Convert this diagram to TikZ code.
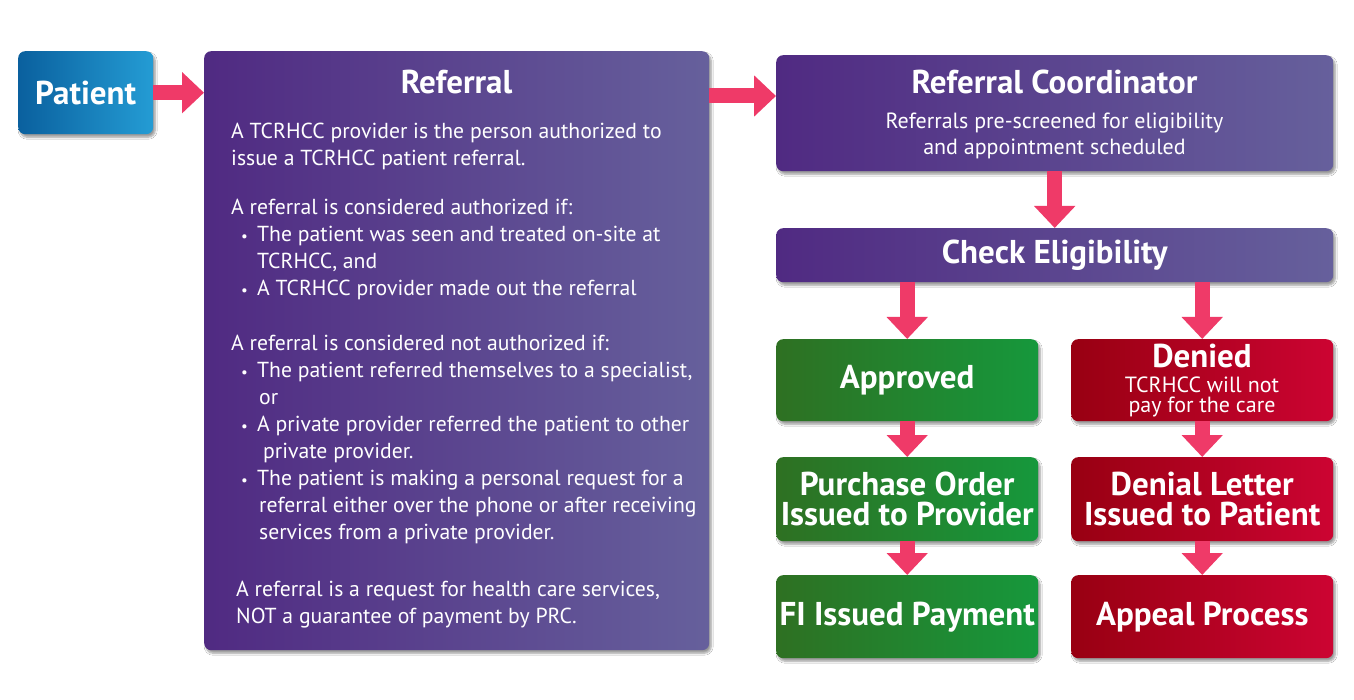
\documentclass[tikz,border=0pt]{standalone}
\usepackage{fontspec}
\setmainfont{PT Sans}
\usetikzlibrary{arrows.meta,shadows.blur}
\definecolor{pinkarrow}{RGB}{239,58,104}
\definecolor{purpL}{RGB}{80,42,130}
\definecolor{purpR}{RGB}{102,96,156}
\definecolor{greenL}{RGB}{46,112,34}
\definecolor{greenR}{RGB}{22,152,60}
\definecolor{redL}{RGB}{152,0,18}
\definecolor{redR}{RGB}{204,4,50}
\definecolor{blueL}{RGB}{10,96,158}
\definecolor{blueR}{RGB}{36,156,212}
\newcommand{\bul}{\hspace*{10pt}\makebox[16pt][l]{\fontsize{15}{15}\selectfont\textbullet}}
\begin{document}
\begin{tikzpicture}[x=1pt,y=-1pt,
  box/.style={rounded corners=7pt, inner sep=0pt, anchor=north west, text=white,
    blur shadow={shadow xshift=2pt, shadow yshift=-3pt, shadow blur steps=8, shadow opacity=40}},
  purplebox/.style={box, left color=purpL, right color=purpR},
  greenbox/.style={box, left color=greenL, right color=greenR},
  redbox/.style={box, left color=redL, right color=redR},
  bluebox/.style={box, left color=blueL, right color=blueR},
  titlefont/.style={font=\bfseries\fontsize{33}{30}\selectfont},
  bodyfont/.style={font=\fontsize{21.7}{27}\selectfont},
  subfont/.style={font=\fontsize{22}{26}\selectfont},
  wtext/.style={text=white, inner sep=0pt},
  conn/.style={draw=pinkarrow, line width=15pt, -{Triangle[width=40pt,length=22pt]}}]
\useasboundingbox[fill=white] (0,0) rectangle (1354,700);

% boxes
\node[bluebox, titlefont, minimum width=135pt, minimum height=83pt] (patient) at (18,51) {Patient};
\node[purplebox, minimum width=505pt, minimum height=599pt] (referral) at (204,51) {};
\node[purplebox, minimum width=557pt, minimum height=116pt] (coord) at (776,55) {};
\node[purplebox, titlefont, minimum width=557pt, minimum height=54pt] (check) at (776,228) {Check Eligibility};
\node[greenbox, titlefont, minimum width=262pt, minimum height=82pt] (approved) at (776,339) {Approved};
\node[redbox, minimum width=262pt, minimum height=82pt] (denied) at (1071,339) {};
\node[greenbox, titlefont, align=center, minimum width=262pt, minimum height=84pt] (po) at (776,457) {Purchase Order\\Issued to Provider};
\node[redbox, titlefont, align=center, minimum width=262pt, minimum height=84pt] (dl) at (1071,457) {Denial Letter\\Issued to Patient};
\node[greenbox, titlefont, minimum width=262pt, minimum height=83pt] (fi) at (776,575) {FI Issued Payment};
\node[redbox, titlefont, minimum width=262pt, minimum height=83pt] (appeal) at (1071,575) {Appeal Process};

% texts
\node[wtext, titlefont] (reftitle) at (456.5,82) {Referral};
\node[wtext, bodyfont, align=left, anchor=north west] (refbody) at (231,123) {%
A TCRHCC provider is the person authorized to\\
issue a TCRHCC patient referral.\\[22pt]
A referral is considered authorized if:\\
\bul The patient was seen and treated on-site at\\
\hspace*{26pt}TCRHCC, and\\
\bul A TCRHCC provider made out the referral\\[28pt]
A referral is considered not authorized if:\\
\bul The patient referred themselves to a specialist,\\
\hspace*{28pt}or\\
\bul A private provider referred the patient to other\\
\hspace*{32pt}private provider.\\
\bul The patient is making a personal request for a\\
\hspace*{28pt}referral either over the phone or after receiving\\
\hspace*{28pt}services from a private provider.\\[30pt]
\hspace*{5pt}A referral is a request for health care services,\\
\hspace*{5pt}NOT a guarantee of payment by PRC.};
\node[wtext, titlefont] (coordtitle) at (1054.5,82) {Referral Coordinator};
\node[wtext, subfont, align=center] (coordsub) at (1054.5,136) {Referrals pre-screened for eligibility\\and appointment scheduled};
\node[wtext, titlefont] (deniedtitle) at (1202,356) {Denied};
\node[wtext, font=\fontsize{22}{20}\selectfont, align=center] (deniedsub) at (1202,397) {TCRHCC will not\\pay for the care};

% connectors
\coordinate (a2) at (709,96);
\draw[conn] (patient.east) -- (patient.east -| referral.west);
\draw[conn] (a2) -- (a2 -| coord.west);
\draw[conn] (coord.south) -- (check.north);
\draw[conn] (check.south -| approved.north) -- (approved.north);
\draw[conn] (check.south -| denied.north) -- (denied.north);
\draw[conn] (approved.south) -- (po.north);
\draw[conn] (po.south) -- (fi.north);
\draw[conn] (denied.south) -- (dl.north);
\draw[conn] (dl.south) -- (appeal.north);
\end{tikzpicture}
\end{document}
